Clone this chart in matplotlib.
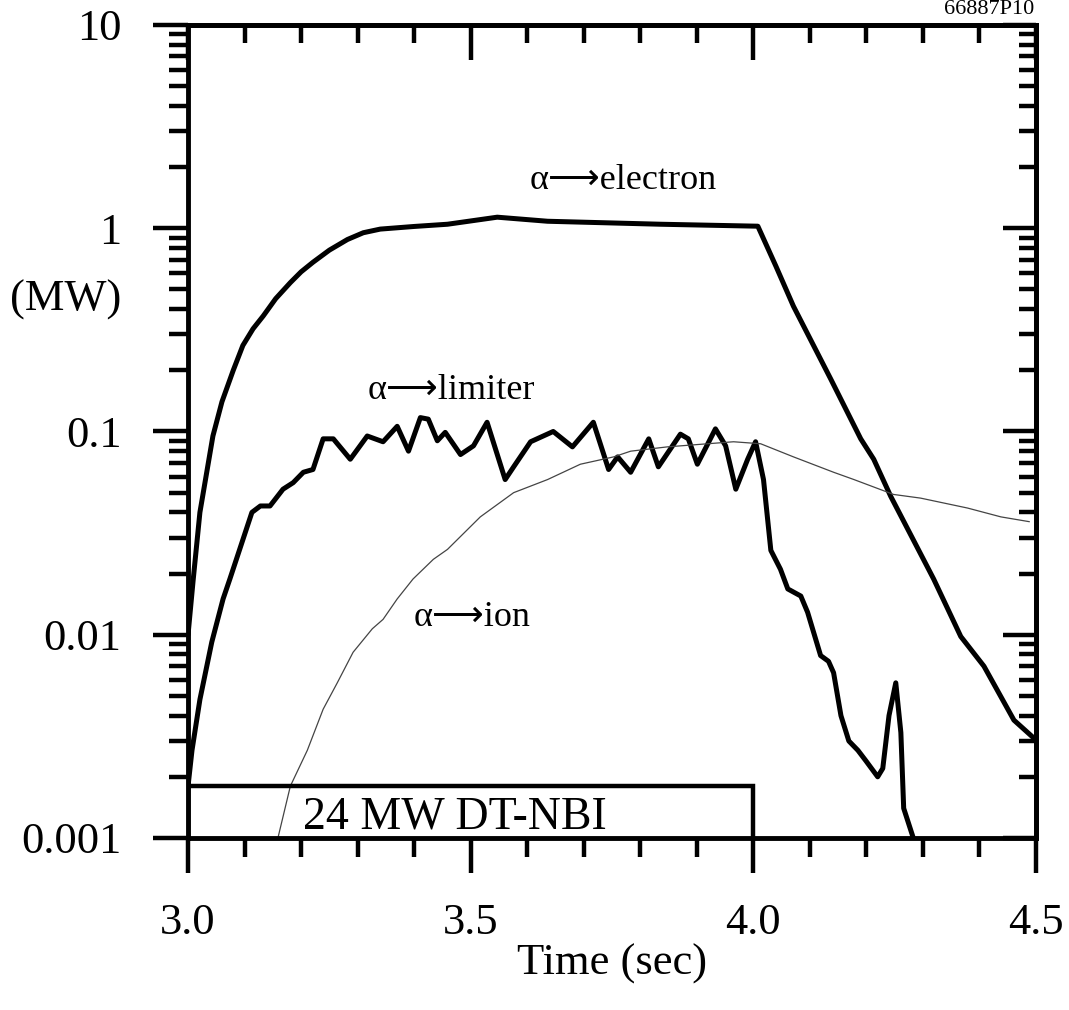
import matplotlib
matplotlib.use('Agg')
import matplotlib.pyplot as plt
from matplotlib.ticker import FixedLocator, FixedFormatter, LogLocator, NullFormatter, MultipleLocator

plt.rcParams['font.family'] = ['Liberation Serif', 'DejaVu Sans']

# ---- data ----
t_electron = [3.000, 3.009, 3.021, 3.044, 3.060, 3.080, 3.097, 3.115, 3.133, 3.155, 3.181, 3.200,
              3.221, 3.250, 3.282, 3.310, 3.340, 3.400,
              3.459, 3.547, 3.636, 3.836, 4.008, 4.040, 4.071, 4.137, 4.190, 4.213, 4.243,
              4.319, 4.367, 4.408, 4.461, 4.502]
p_electron = [0.0100, 0.0185, 0.040, 0.095, 0.140, 0.200, 0.265, 0.320, 0.370, 0.450, 0.540, 0.610,
              0.680, 0.780, 0.880, 0.950, 0.990, 1.020,
              1.046, 1.133, 1.082, 1.046, 1.023, 0.65, 0.413, 0.181, 0.092, 0.073, 0.048,
              0.0188, 0.0098, 0.0070, 0.0038, 0.0030]

t_limiter = [3.000, 3.007, 3.021, 3.042, 3.062, 3.074, 3.113, 3.128, 3.145, 3.168, 3.186,
             3.204, 3.221, 3.239, 3.257, 3.287, 3.317, 3.345, 3.370, 3.390, 3.411, 3.425,
             3.441, 3.455, 3.482, 3.505, 3.529, 3.561, 3.576, 3.606, 3.646, 3.680, 3.717,
             3.744, 3.760, 3.783, 3.815, 3.832, 3.871, 3.885, 3.901, 3.933, 3.951, 3.969,
             3.990, 4.004, 4.018, 4.031, 4.048, 4.061, 4.084, 4.096, 4.119, 4.133, 4.142,
             4.155, 4.169, 4.185, 4.199, 4.220, 4.229, 4.240, 4.252, 4.261, 4.266, 4.282, 4.290]
p_limiter = [0.0018, 0.0027, 0.0048, 0.0092, 0.0150, 0.0188, 0.040, 0.043, 0.043, 0.052, 0.056,
             0.063, 0.065, 0.092, 0.092, 0.073, 0.095, 0.089, 0.106, 0.080, 0.117, 0.115,
             0.090, 0.099, 0.077, 0.085, 0.111, 0.058, 0.067, 0.089, 0.100, 0.084, 0.111,
             0.065, 0.075, 0.063, 0.092, 0.067, 0.097, 0.092, 0.069, 0.103, 0.085, 0.052,
             0.073, 0.089, 0.058, 0.026, 0.021, 0.0168, 0.0155, 0.0129, 0.0079, 0.0074, 0.0065,
             0.0040, 0.0030, 0.0027, 0.0024, 0.0020, 0.0022, 0.0040, 0.0058, 0.0033, 0.0014, 0.00102, 0.0008]

t_ion = [3.159, 3.181, 3.211, 3.239, 3.264, 3.292, 3.326, 3.345, 3.370, 3.398, 3.434, 3.459,
         3.517, 3.576, 3.636, 3.694, 3.753, 3.783, 3.848, 3.965, 4.013, 4.071, 4.142, 4.178,
         4.248, 4.296, 4.379, 4.438, 4.488]
p_ion = [0.0010, 0.0018, 0.0027, 0.0043, 0.0058, 0.0082, 0.0107, 0.0119, 0.0150, 0.0188, 0.0235,
         0.0263, 0.038, 0.050, 0.058, 0.069, 0.075, 0.080, 0.084, 0.089, 0.087, 0.075, 0.063,
         0.058, 0.049, 0.047, 0.042, 0.038, 0.036]

nbi_start, nbi_end, nbi_level = 3.0, 4.0, 0.0018

x_major = [3.0, 3.5, 4.0, 4.5]
x_labels = ['3.0', '3.5', '4.0', '4.5']
y_major = [0.001, 0.01, 0.1, 1, 10]
y_labels = ['0.001', '0.01', '0.1', '1', '10']

# ---- figure ----
fig = plt.figure(figsize=(10.69, 10.10), dpi=100)
ax = fig.add_axes([0.1759, 0.1703, 0.7932, 0.8050])
ax.set_yscale('log')
ax.set_xlim(3.0, 4.5)
ax.set_ylim(1e-3, 10)

lw_thick = 3.6
ax.plot(t_electron, p_electron, color='black', lw=lw_thick, solid_joinstyle='round', solid_capstyle='round')
ax.plot(t_limiter, p_limiter, color='black', lw=lw_thick, solid_joinstyle='round', solid_capstyle='round')
ax.plot(t_ion, p_ion, color='#444444', lw=0.9)
ax.plot([nbi_start, nbi_start, nbi_end, nbi_end], [1e-3, nbi_level, nbi_level, 1e-3],
        color='black', lw=3.2, solid_joinstyle='miter')

fs = 32
ax.text(3.204, 0.00111, '24 MW DT-NBI', fontsize=33, ha='left', va='baseline')
ax.text(3.769, 1.556, 'α⟶electron', fontsize=26, ha='center', va='baseline')
ax.text(3.466, 0.144, 'α⟶limiter', fontsize=26, ha='center', va='baseline')
ax.text(3.503, 0.0111, 'α⟶ion', fontsize=26, ha='center', va='baseline')

for s in ax.spines.values():
    s.set_linewidth(3.5)

# bottom / left ticks (outward)
ax.xaxis.set_major_locator(FixedLocator(x_major))
ax.xaxis.set_major_formatter(FixedFormatter(x_labels))
ax.xaxis.set_minor_locator(MultipleLocator(0.1))
ax.yaxis.set_major_locator(FixedLocator(y_major))
ax.yaxis.set_major_formatter(FixedFormatter(y_labels))
ax.yaxis.set_minor_locator(LogLocator(base=10, subs=[2, 3, 4, 5, 6, 7, 8, 9]))
ax.yaxis.set_minor_formatter(NullFormatter())
ax.tick_params(which='major', direction='out', length=25, width=3.2, labelsize=fs)
ax.tick_params(which='minor', direction='out', length=13.5, width=3.2)
ax.tick_params(axis='x', which='major', pad=22)
ax.tick_params(axis='y', which='major', pad=23)

# top ticks (inward)
secx = ax.secondary_xaxis('top')
secx.xaxis.set_major_locator(FixedLocator(x_major))
secx.xaxis.set_minor_locator(MultipleLocator(0.1))
secx.tick_params(which='major', direction='in', length=25, width=3.2, labeltop=False)
secx.tick_params(which='minor', direction='in', length=13, width=3.2)
secx.spines['top'].set_linewidth(3.5)

# right ticks (inward)
secy = ax.secondary_yaxis('right')
secy.yaxis.set_major_locator(FixedLocator(y_major))
secy.yaxis.set_minor_locator(LogLocator(base=10, subs=[2, 3, 4, 5, 6, 7, 8, 9]))
secy.yaxis.set_minor_formatter(NullFormatter())
secy.tick_params(which='major', direction='in', length=24, width=3.2, labelright=False)
secy.tick_params(which='minor', direction='in', length=12, width=3.2)
secy.spines['right'].set_linewidth(3.5)

fig.text(66 / 1069, 1 - 300 / 1010, '(MW)', fontsize=fs, ha='center', va='center')
fig.text(612 / 1069, 1 - 964 / 1010, 'Time (sec)', fontsize=fs, ha='center', va='center')
fig.text(1034 / 1069, 1 - 9 / 1010, '66887P10', fontsize=16, ha='right', va='center')

fig.savefig('out.png', dpi=100, facecolor='white')
